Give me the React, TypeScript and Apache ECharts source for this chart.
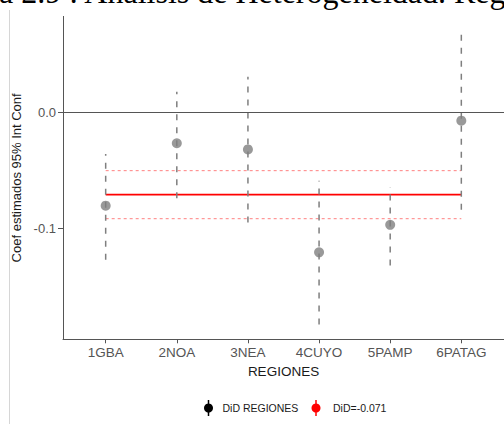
import { useEffect, useRef } from "react";
import * as echarts from "echarts";

// Regional difference-in-differences estimates with 95% confidence intervals
const regions = ["1GBA", "2NOA", "3NEA", "4CUYO", "5PAMP", "6PATAG"];
const coef = [-0.0805, -0.0267, -0.032, -0.1207, -0.097, -0.0072];
const ciLow = [-0.127, -0.074, -0.095, -0.183, -0.132, -0.084];
const ciHigh = [-0.036, 0.0178, 0.0307, -0.059, -0.0647, 0.07];

// Pooled estimate and its interval
const didValue = -0.071;
const didLow = -0.0917;
const didHigh = -0.0503;

const yTicks = [-0.1, 0];
const xTicks = regions.map((_, i) => i + 1);

const titleText = "a 2.9 : Análisis de Heterogeneidad. Regiones";
const legendNames = ["DiD REGIONES", "DiD=-0.071"];

const SANS = "'Liberation Sans', Arial, sans-serif";

export default function App() {
  const ref = useRef<HTMLDivElement>(null);

  useEffect(() => {
    if (!ref.current) return;
    const chart = echarts.init(ref.current, null, { renderer: "svg" });

    // 5% expansion of the data range, as the plot panel does
    const lo = Math.min(...ciLow);
    const hi = Math.max(...ciHigh);
    const pad = (hi - lo) * 0.05;
    const n = regions.length;

    const hLine = (v: number) => [
      [1, v],
      [n, v],
    ];

    chart.setOption({
      animation: false,
      backgroundColor: "#ffffff",
      grid: { left: 63, right: -11.5, top: 16.4, bottom: 84.7, containLabel: false },
      xAxis: {
        type: "value",
        min: 1 - 0.6,
        max: n + 0.6,
        splitLine: { show: false },
        axisLine: { show: true, onZero: false, lineStyle: { color: "#555555", width: 1 } },
        axisTick: {
          show: true,
          customValues: xTicks,
          length: 4,
          lineStyle: { color: "#555555", width: 1 },
        },
        axisLabel: {
          customValues: xTicks,
          formatter: (v: number) => regions[Math.round(v) - 1] ?? "",
          color: "#555555",
          fontSize: 13.5,
          fontFamily: SANS,
          margin: 6,
        },
        name: "REGIONES",
        nameLocation: "middle",
        nameGap: 24,
        nameTextStyle: { color: "#1a1a1a", fontSize: 13.5, fontFamily: SANS },
      },
      yAxis: {
        type: "value",
        min: lo - pad,
        max: hi + pad,
        splitLine: { show: false },
        axisLine: { show: true, onZero: false, lineStyle: { color: "#555555", width: 1 } },
        axisTick: {
          show: true,
          customValues: yTicks,
          length: 5,
          lineStyle: { color: "#555555", width: 1 },
        },
        axisLabel: {
          customValues: yTicks,
          formatter: (v: number) => v.toFixed(1),
          color: "#555555",
          fontSize: 13,
          fontFamily: SANS,
          margin: 7,
        },
        name: "Coef estimados 95% Int Conf",
        nameLocation: "middle",
        nameGap: 27,
        nameTextStyle: { color: "#1a1a1a", fontSize: 13, fontFamily: SANS },
      },
      series: [
        {
          name: "ci",
          type: "custom",
          z: 2,
          encode: { x: 0, y: [1, 2] },
          data: regions.map((_, i) => [i + 1, ciLow[i], ciHigh[i]]),
          renderItem: (_params: any, api: any) => {
            const x = api.value(0);
            const p1 = api.coord([x, api.value(1)]);
            const p2 = api.coord([x, api.value(2)]);
            return {
              type: "line",
              shape: { x1: p1[0], y1: p1[1], x2: p2[0], y2: p2[1] },
              style: { stroke: "#7f7f7f", lineWidth: 1.5, lineDash: [6, 7] },
            };
          },
        },
        {
          name: "did",
          type: "line",
          z: 1,
          symbol: "none",
          data: hLine(didValue),
          lineStyle: { color: "#ff0000", width: 1.6 },
        },
        {
          name: "didLow",
          type: "line",
          z: 1,
          symbol: "none",
          data: hLine(didLow),
          lineStyle: { color: "#ff8080", width: 1, type: [3, 3] },
        },
        {
          name: "didHigh",
          type: "line",
          z: 1,
          symbol: "none",
          data: hLine(didHigh),
          lineStyle: { color: "#ff8080", width: 1, type: [3, 3] },
        },
        {
          name: "coef",
          type: "scatter",
          z: 3,
          symbol: "circle",
          symbolSize: 10,
          itemStyle: { color: "#7f7f7f" },
          data: regions.map((_, i) => [i + 1, coef[i]]),
          markLine: {
            silent: true,
            symbol: ["none", "none"],
            label: { show: false },
            lineStyle: { color: "#555555", width: 1.1, type: "solid" },
            data: [{ yAxis: 0 }],
          },
        },
      ],
      graphic: [
        // page margin rule
        {
          type: "line",
          shape: { x1: 9.5, y1: 10, x2: 9.5, y2: 424 },
          style: { stroke: "#d6d6d6", lineWidth: 1 },
        },
        // heading, mostly above the page
        {
          type: "text",
          x: -1,
          y: -8.4,
          style: {
            text: titleText,
            font: "32px 'Liberation Serif', 'Times New Roman', serif",
            fill: "#000000",
            verticalAlign: "middle",
            align: "left",
          },
        },
        // legend: point-range keys
        {
          type: "group",
          children: [
            {
              type: "line",
              shape: { x1: 208.5, y1: 400, x2: 208.5, y2: 416 },
              style: { stroke: "#000000", lineWidth: 1.5 },
            },
            { type: "circle", shape: { cx: 208.5, cy: 408, r: 4.5 }, style: { fill: "#000000" } },
            {
              type: "text",
              x: 222.5,
              y: 408,
              style: {
                text: legendNames[0],
                font: `10.5px ${SANS}`,
                fill: "#1a1a1a",
                verticalAlign: "middle",
              },
            },
            {
              type: "line",
              shape: { x1: 316, y1: 400, x2: 316, y2: 416 },
              style: { stroke: "#ff0000", lineWidth: 1.5 },
            },
            { type: "circle", shape: { cx: 316, cy: 408, r: 4.5 }, style: { fill: "#ff0000" } },
            {
              type: "text",
              x: 333,
              y: 408,
              style: {
                text: legendNames[1],
                font: `10.5px ${SANS}`,
                fill: "#1a1a1a",
                verticalAlign: "middle",
              },
            },
          ],
        },
      ],
    });

    return () => chart.dispose();
  }, []);

  return (
    <div
      ref={ref}
      style={{ position: "absolute", left: 0, top: 0, width: 504, height: 424, background: "#fff" }}
    />
  );
}
